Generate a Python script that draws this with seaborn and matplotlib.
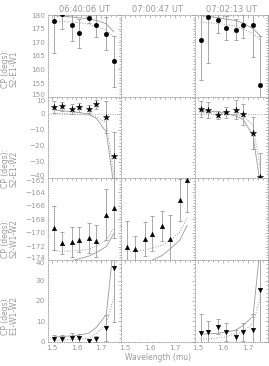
import matplotlib
matplotlib.use("Agg")
import matplotlib.pyplot as plt
from matplotlib.ticker import MultipleLocator, FuncFormatter
import seaborn as sns
import pandas as pd

# wavelength channels (microns)
wavelength = [1.51, 1.54, 1.58, 1.61, 1.65, 1.68, 1.72, 1.75]
times = ["06:40:06 UT", "07:00:47 UT", "07:02:13 UT"]
triangles = ["S2-E1-W1", "S2-E1-W2", "S2-W1-W2", "E1-W1-W2"]

# S2-E1-W1
cp_a_t1 = [177.8, 180.2, 176.5, 173.3, 178.8, 176.3, 173.1, 163.0]
err_a_t1 = [11.6, 5.4, 6.0, 5.4, 1.8, 4.3, 6.0, 9.4]
solid_a_t1 = [179.8, 179.6, 179.3, 179.0, 178.6, 178.0, 176.8, 173.8]
dot_a_t1 = [177.8, 177.6, 177.4, 177.2, 176.6, 175.7, 174.5, 172.0]
cp_a_t3 = [170.7, 179.3, 178.1, 175.2, 174.6, 176.5, 176.2, 154.3]
err_a_t3 = [14.6, 16.8, 4.6, 4.3, 3.9, 5.0, 11.6, 18.0]
solid_a_t3 = [179.8, 179.5, 179.0, 178.5, 178.0, 177.0, 175.0, 172.3]
dot_a_t3 = [177.3, 177.1, 176.9, 176.5, 176.0, 174.8, 173.2, 170.7]

# S2-E1-W2
cp_b_t1 = [4.3, 4.7, 3.2, 4.1, 3.0, 6.0, -2.2, -26.5]
err_b_t1 = [4.0, 3.0, 3.0, 3.0, 2.5, 3.0, 10.0, 15.0]
solid_b_t1 = [2.6, 2.0, 1.4, 0.9, -0.2, -2.8, -11.4, -45.0]
dot_b_t1 = [0.3, 0.2, 0.0, -0.3, -0.8, -1.8, -5.5, -38.0]
cp_b_t3 = [3.0, 2.4, -0.6, 1.1, 2.6, -0.2, -12.0, -39.5]
err_b_t3 = [5.0, 5.0, 2.5, 3.4, 6.0, 6.5, 10.0, 15.0]
solid_b_t3 = [2.1, 1.8, 1.2, 0.4, -1.3, -3.4, -13.5, -45.0]
dot_b_t3 = [0.8, 0.7, 0.4, 0.0, -0.6, -1.5, -7.0, -35.0]

# S2-W1-W2
cp_c_t1 = [-169.3, -171.5, -171.3, -171.0, -170.8, -171.2, -167.3, -166.35]
err_c_t1 = [3.2, 1.6, 2.2, 1.8, 2.2, 2.3, 3.7, 4.4]
solid_c_t1 = [-174.6, -174.4, -174.1, -173.8, -173.4, -172.9, -172.0, -170.1]
dot_c_t1 = [-172.6, -172.7, -172.7, -172.6, -172.4, -171.9, -171.1, -169.3]
cp_c_t2 = [-172.1, -172.4, -170.9, -170.1, -169.0, -170.9, -165.2, -162.3]
err_c_t2 = [3.8, 2.0, 2.5, 2.6, 2.2, 3.5, 3.1, 4.6]
solid_c_t2 = [-175.5, -175.0, -174.5, -174.0, -173.3, -172.4, -171.1, -168.9]
dot_c_t2 = [-172.7, -172.7, -172.5, -172.2, -171.8, -171.1, -169.9, -167.8]

# E1-W1-W2
cp_d_t1 = [1.3, 1.3, 1.7, 2.0, 0.3, 1.2, 6.8, 36.3]
err_d_t1 = [2.1, 2.0, 2.5, 2.0, 1.0, 1.5, 6.5, 26.6]
solid_d_t1 = [2.4, 2.6, 2.9, 3.3, 4.2, 7.1, 13.4, 48.0]
dot_d_t1 = [0.8, 0.9, 1.1, 1.3, 1.8, 4.0, 8.7, 22.0]
cp_d_t3 = [4.2, 4.7, 7.5, 4.7, 2.2, 5.0, 6.0, 25.5]
err_d_t3 = [9.6, 5.3, 3.8, 4.5, 3.5, 4.4, 7.6, 26.0]
solid_d_t3 = [3.8, 3.9, 4.2, 4.8, 5.7, 8.0, 12.5, 48.0]
dot_d_t3 = [1.3, 1.5, 1.9, 2.5, 3.8, 5.0, 9.0, 22.0]

panels = {
    (0, 0): (cp_a_t1, err_a_t1, solid_a_t1, dot_a_t1),
    (0, 2): (cp_a_t3, err_a_t3, solid_a_t3, dot_a_t3),
    (1, 0): (cp_b_t1, err_b_t1, solid_b_t1, dot_b_t1),
    (1, 2): (cp_b_t3, err_b_t3, solid_b_t3, dot_b_t3),
    (2, 0): (cp_c_t1, err_c_t1, solid_c_t1, dot_c_t1),
    (2, 1): (cp_c_t2, err_c_t2, solid_c_t2, dot_c_t2),
    (3, 0): (cp_d_t1, err_d_t1, solid_d_t1, dot_d_t1),
    (3, 2): (cp_d_t3, err_d_t3, solid_d_t3, dot_d_t3),
}
markers = ["o", "*", "^", "v"]
msize = [11, 22, 11, 11]
ylims = [(150, 180), (-40.5, 10.8), (-174, -162), (0, 40)]
ysteps = [5, 10, 2, 10]
# tick labels that sit on a shared row edge, drawn nudged apart
edge_top = [None, 10, -162, 40]
edge_bottom = [150, -40, -174, None]
label_y = [0.34, 0.12, 0.26, 0.32]

gray = "#9a9a9a"
sns.set_style("white")
plt.rcParams["font.family"] = ["DejaVu Sans"]
plt.rcParams["font.size"] = 5.5


def fmt(v):
    return f"{v:g}".replace("-", "\u2212")


fig, axes = plt.subplots(4, 3, figsize=(2.69, 3.66), dpi=100, sharex=True)
fig.subplots_adjust(left=0.178, right=0.996, top=0.959, bottom=0.066,
                    wspace=0, hspace=0)

for r in range(4):
    for c in range(3):
        ax = axes[r, c]
        if (r, c) in panels:
            cp, err, solid, dot = panels[(r, c)]
            df = pd.DataFrame({"wl": wavelength, "cp": cp, "err": err,
                               "solid": solid, "dot": dot})
            if r == 1:
                ax.axhline(0, color=gray, lw=0.6, ls=":")
            ax.errorbar(df["wl"], df["cp"], yerr=df["err"], fmt="none",
                        ecolor=gray, elinewidth=0.6, capsize=1.2,
                        capthick=0.6)
            sns.lineplot(data=df, x="wl", y="solid", ax=ax, color=gray,
                         lw=0.6, sort=False, estimator=None)
            sns.lineplot(data=df, x="wl", y="dot", ax=ax, color=gray,
                         lw=0.7, ls=":", sort=False, estimator=None)
            sns.scatterplot(data=df, x="wl", y="cp", ax=ax, marker=markers[r],
                            s=msize[r], color="black", edgecolor="black",
                            linewidth=0.3, zorder=5)
        ax.set_xlim(1.485, 1.78)
        ax.set_ylim(*ylims[r])
        ax.xaxis.set_major_locator(MultipleLocator(0.1))
        ax.xaxis.set_minor_locator(MultipleLocator(0.02))
        ax.yaxis.set_major_locator(MultipleLocator(ysteps[r]))
        ax.yaxis.set_minor_locator(MultipleLocator(ysteps[r] / 5))
        ax.tick_params(which="both", direction="in", top=True, right=True,
                       color=gray, labelcolor=gray, width=0.5, pad=2,
                       labelsize=5.2)
        ax.tick_params(which="major", length=2.5)
        ax.tick_params(which="minor", length=1.2)
        for sp in ax.spines.values():
            sp.set_color(gray)
            sp.set_linewidth(0.6)
            sp.set_linestyle(":")
        ax.set_xlabel("")
        ax.set_ylabel("")
        if c != 0:
            ax.tick_params(labelleft=False)
        else:
            skip = {edge_top[r], edge_bottom[r]}
            ax.yaxis.set_major_formatter(FuncFormatter(
                lambda v, pos, skip=skip: "" if round(v, 6) in skip else fmt(v)))
            for val, dy in ((edge_top[r], -1.6), (edge_bottom[r], 1.6)):
                if val is None:
                    continue
                ax.annotate(fmt(val), xy=(0, val),
                            xycoords=ax.get_yaxis_transform(),
                            xytext=(-2, dy), textcoords="offset points",
                            ha="right", va="center_baseline", color=gray,
                            fontsize=5.2, annotation_clip=False)
            ax.set_ylabel("CP (degs):\n" + triangles[r], color=gray,
                          fontsize=5.5, linespacing=0.95)
            ax.yaxis.set_label_coords(-0.4, label_y[r])
        if r != 3:
            ax.tick_params(labelbottom=False)
        if r == 0:
            ax.set_title(times[c], color=gray, fontsize=6, pad=2)

axes[3, 1].set_xlabel("Wavelength (mu)", color=gray, fontsize=5.5, labelpad=2)

fig.savefig("out.png", dpi=100, facecolor="white")
